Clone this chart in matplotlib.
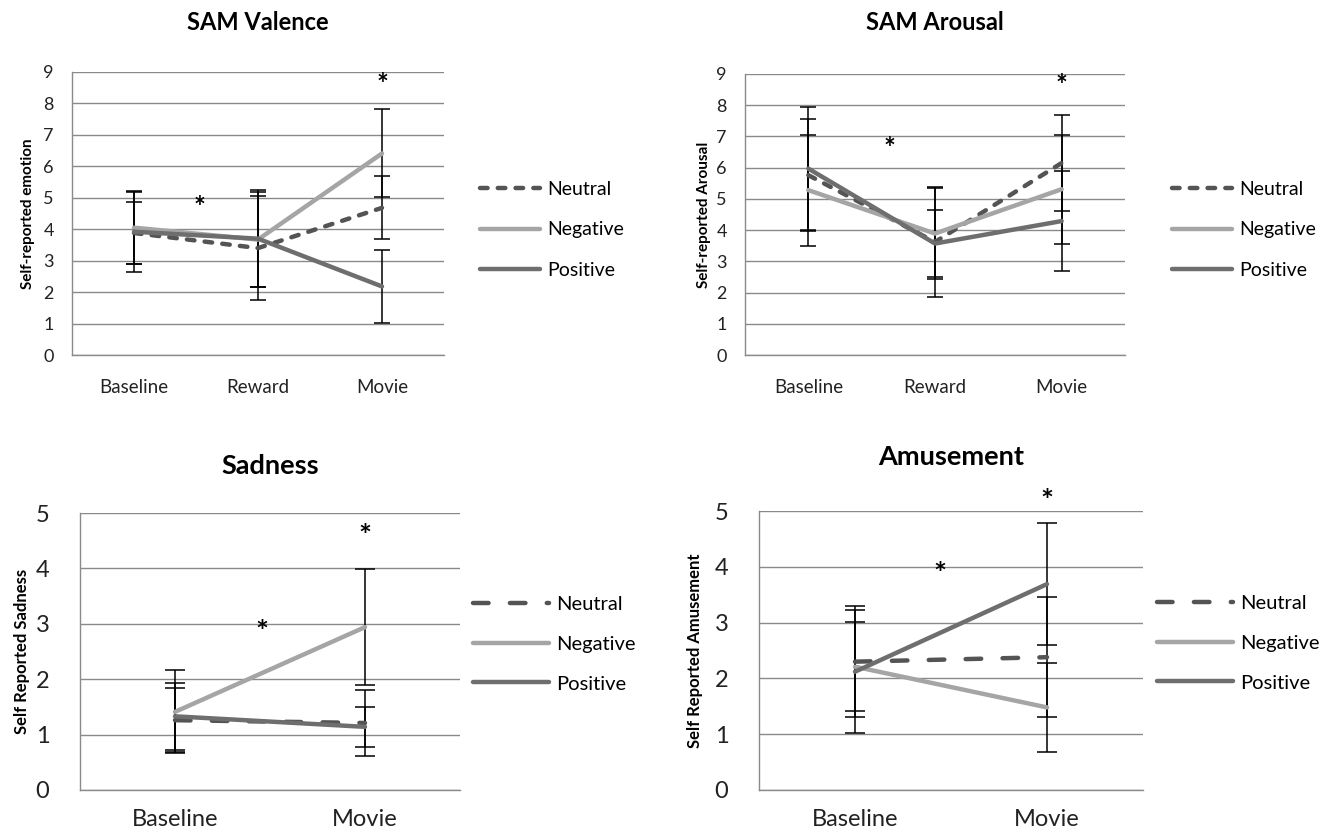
import matplotlib
matplotlib.use("Agg")
import matplotlib.pyplot as plt

plt.rcParams['font.family'] = ['Lato', 'DejaVu Sans']

# ---------------- data ----------------
cats3 = ["Baseline", "Reward", "Movie"]
cats2 = ["Baseline", "Movie"]
series = ["Neutral", "Negative", "Positive"]

val_neutral = [3.88, 3.40, 4.68]
val_negative = [4.05, 3.67, 6.41]
val_positive = [3.92, 3.70, 2.18]
val_neutral_err = [1.00, 1.65, 1.00]
val_negative_err = [1.15, 1.50, 1.40]
val_positive_err = [1.27, 1.55, 1.15]

aro_neutral = [5.76, 3.62, 6.15]
aro_negative = [5.28, 3.89, 5.31]
aro_positive = [5.97, 3.57, 4.29]
aro_neutral_err = [1.80, 1.75, 1.55]
aro_negative_err = [1.78, 1.45, 1.75]
aro_positive_err = [1.97, 1.08, 1.60]

sad_neutral = [1.26, 1.21]
sad_negative = [1.41, 2.94]
sad_positive = [1.33, 1.14]
sad_neutral_err = [0.58, 0.60]
sad_negative_err = [0.75, 1.05]
sad_positive_err = [0.60, 0.36]

amu_neutral = [2.30, 2.38]
amu_negative = [2.21, 1.48]
amu_positive = [2.12, 3.69]
amu_neutral_err = [1.00, 1.07]
amu_negative_err = [0.80, 0.80]
amu_positive_err = [1.10, 1.09]

# significance markers (x in category units, y in data units)
val_stars = [(0.53, 4.68), (2.0, 8.6)]
aro_stars = [(0.64, 6.61), (2.0, 8.6)]
sad_stars = [(0.46, 2.84), (1.0, 4.56)]
amu_stars = [(0.44, 3.85), (1.0, 5.17)]

# ---------------- style ----------------
W, H = 1334, 839
fig = plt.figure(figsize=(W / 100, H / 100), dpi=100)

C_NEU = "#545454"
C_NEG = "#a5a5a5"
C_POS = "#6e6e6e"
GRID = "#8a8a8a"


def add_axes(l, r, t, b):
    return fig.add_axes([l / W, 1 - b / H, (r - l) / W, (b - t) / H])


def panel(ax, cats, data, errs, ymax, title, ylabel, stars, big, dashes,
          legpos, title_pad, ylabpad):
    x = list(range(len(cats)))
    colors = [C_NEU, C_NEG, C_POS]
    handles = []
    for vals, err in zip(data, errs):
        ax.errorbar(x, vals, yerr=err, fmt="none", ecolor="black", elinewidth=1.1,
                    capsize=6 if not big else 7, capthick=1.1, zorder=2)
    for vals, col, name in zip(data, colors, series):
        if name == "Neutral":
            ln, = ax.plot(x, vals, color=col, lw=3.2, zorder=3, dashes=dashes,
                          solid_capstyle="round", dash_capstyle="round")
        else:
            ln, = ax.plot(x, vals, color=col, lw=3.2, zorder=3, solid_capstyle="round")
        handles.append(ln)
    ax.set_xlim(-0.5, len(cats) - 0.5)
    ax.set_ylim(0, ymax)
    ax.set_yticks(range(0, ymax + 1))
    ax.set_xticks(x)
    ax.set_xticklabels(cats)
    ax.yaxis.grid(True, color=GRID, lw=1.0)
    ax.set_axisbelow(True)
    for s in ["top", "right"]:
        ax.spines[s].set_visible(False)
    for s in ["left", "bottom"]:
        ax.spines[s].set_color(GRID)
        ax.spines[s].set_linewidth(1.0)
    ax.tick_params(axis="both", length=0, colors="#222222")
    ax.tick_params(axis="y", labelsize=17 if big else 13, pad=22 if big else 13)
    ax.tick_params(axis="x", labelsize=17 if big else 13.5, pad=14 if big else 17)
    ax.set_title(title, fontsize=19.5 if big else 17, fontweight="bold", pad=title_pad)
    ax.set_ylabel(ylabel, fontsize=12 if big else 11, fontweight="bold",
                  labelpad=ylabpad)
    for sx, sy in stars:
        ax.text(sx, sy, "*", ha="center", va="center", fontsize=22 if big else 20,
                fontweight="bold", clip_on=False)
    lx, ly = legpos
    fs = 14.5 if big else 14
    fpx = fs * 100 / 72
    hl = (76 if big else 60) / fpx
    fig.legend(handles, series, loc="center left",
               bbox_to_anchor=(lx / W, 1 - ly / H), frameon=False,
               borderpad=0, borderaxespad=0,
               fontsize=fs, handlelength=hl,
               handletextpad=7 / fpx, labelspacing=(43 - fpx * 1.0) / fpx)
    return ax


ax1 = add_axes(72, 444, 72, 355)
panel(ax1, cats3, [val_neutral, val_negative, val_positive],
      [val_neutral_err, val_negative_err, val_positive_err], 9,
      "SAM Valence", "Self-reported emotion", val_stars, False, (1.7, 2.3),
      (480, 230), 30, 6)

ax2 = add_axes(745, 1125, 74, 355)
panel(ax2, cats3, [aro_neutral, aro_negative, aro_positive],
      [aro_neutral_err, aro_negative_err, aro_positive_err], 9,
      "SAM Arousal", "Self-reported Arousal", aro_stars, False, (1.7, 2.3),
      (1172, 230), 32, 4)

ax3 = add_axes(80, 460, 513, 790)
panel(ax3, cats2, [sad_neutral, sad_negative, sad_positive],
      [sad_neutral_err, sad_negative_err, sad_positive_err], 5,
      "Sadness", "Self Reported Sadness", sad_stars, True, (3.5, 4.8),
      (473, 644), 28, 4)

ax4 = add_axes(759, 1143, 511, 790)
panel(ax4, cats2, [amu_neutral, amu_negative, amu_positive],
      [amu_neutral_err, amu_negative_err, amu_positive_err], 5,
      "Amusement", "Self Reported Amusement", amu_stars, True, (3.5, 4.8),
      (1157, 643), 33, 8)

fig.savefig("out.png", dpi=100, facecolor="white")
